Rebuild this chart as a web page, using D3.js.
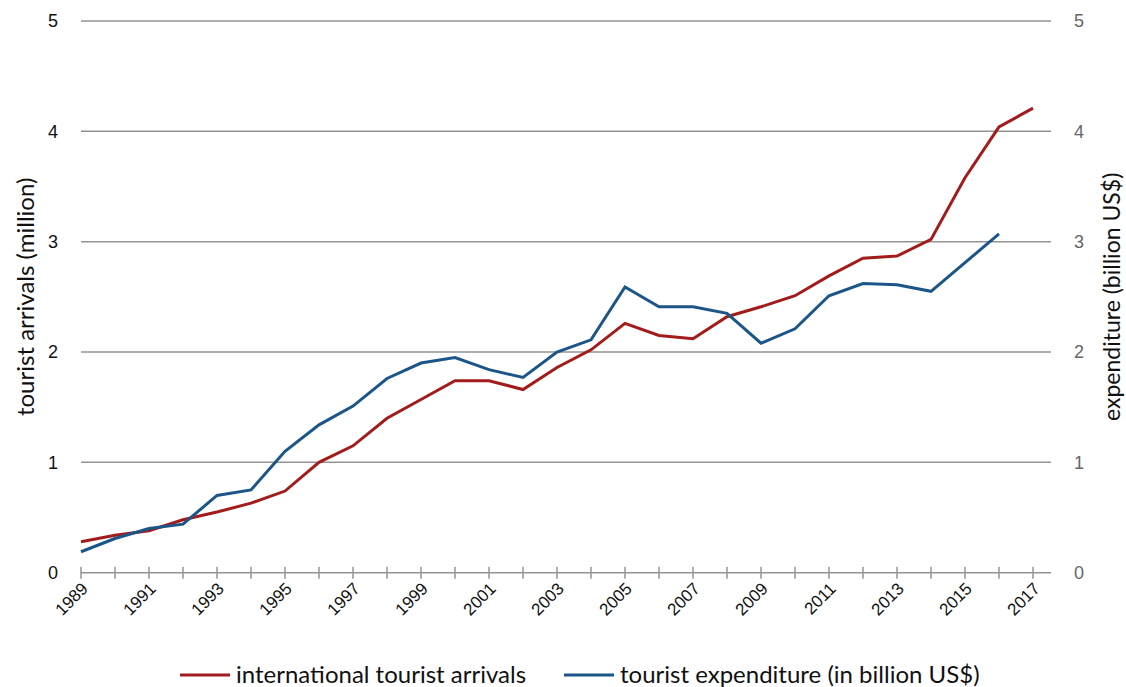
<!DOCTYPE html>
<html lang="en">
<head>
  <meta charset="UTF-8">
  <title>Tourist arrivals and expenditure</title>
  <script src="https://d3js.org/d3.v7.min.js"></script>
  <style>
    body {
      margin: 0;
      padding: 0;
      background-color: #fff;
    }
    svg text {
      font-family: "Liberation Sans", Arial, sans-serif;
    }
    .title, .legend text {
      font-family: Lato, "Open Sans", sans-serif !important;
    }
  </style>
</head>
<body>
  <svg id="chart"></svg>

  <script>
    // Data
    const years = d3.range(1989, 2018);
    const arrivals = [0.28, 0.34, 0.38, 0.48, 0.55, 0.63, 0.74, 1.00, 1.15, 1.40,
                      1.57, 1.74, 1.74, 1.66, 1.86, 2.02, 2.26, 2.15, 2.12, 2.32,
                      2.41, 2.51, 2.69, 2.85, 2.87, 3.02, 3.58, 4.04, 4.21];
    const expenditure = [0.19, 0.31, 0.40, 0.44, 0.70, 0.75, 1.10, 1.34, 1.51, 1.76,
                         1.90, 1.95, 1.84, 1.77, 2.00, 2.11, 2.59, 2.41, 2.41, 2.35,
                         2.08, 2.21, 2.51, 2.62, 2.61, 2.55, 2.81, 3.07, null];
    const yTicks = [0, 1, 2, 3, 4, 5];
    const xLabelYears = years.filter(y => y % 2 === 1);

    const seriesNames = ["international tourist arrivals", "tourist expenditure (in billion US$)"];
    const seriesColors = ["#a21c1c", "#1c5688"];

    const width = 1126, height = 687;
    const svg = d3.select("#chart").attr("width", width).attr("height", height);

    const x = d3.scaleLinear().domain([1989, 2017]).range([81, 1033]);
    const yLeft = d3.scaleLinear().domain([0, 5]).range([572.7, 21]);
    const yRight = d3.scaleLinear().domain([0, 5]).range([572.7, 21]);
    const gridLeft = 81, gridRight = 1051;

    // gridlines
    svg.append("g")
      .selectAll("line")
      .data(yTicks.filter(d => d > 0))
      .join("line")
      .attr("x1", gridLeft).attr("x2", gridRight)
      .attr("y1", d => yLeft(d)).attr("y2", d => yLeft(d))
      .attr("stroke", "#939393")
      .attr("stroke-width", 1.5);

    // x axis line and ticks
    const xAxis = svg.append("g");
    xAxis.append("line")
      .attr("x1", gridLeft).attr("x2", gridRight)
      .attr("y1", yLeft(0)).attr("y2", yLeft(0))
      .attr("stroke", "#939393").attr("stroke-width", 1.5);
    xAxis.selectAll("line.tick")
      .data(years)
      .join("line")
      .attr("class", "tick")
      .attr("x1", d => x(d)).attr("x2", d => x(d))
      .attr("y1", yLeft(0) - 6).attr("y2", yLeft(0) + 6)
      .attr("stroke", "#939393").attr("stroke-width", 1.5);
    xAxis.selectAll("text")
      .data(xLabelYears)
      .join("text")
      .attr("transform", d => `translate(${x(d) + 8},${yLeft(0) + 17}) rotate(-45)`)
      .attr("text-anchor", "end")
      .attr("font-size", 17)
      .attr("fill", "#111")
      .text(d => d);

    // left y labels
    svg.append("g")
      .selectAll("text")
      .data(yTicks)
      .join("text")
      .attr("x", 53).attr("y", d => yLeft(d))
      .attr("dy", "0.35em")
      .attr("text-anchor", "middle")
      .attr("font-size", 18)
      .attr("fill", "#111")
      .text(d => d);

    // right y labels
    svg.append("g")
      .selectAll("text")
      .data(yTicks)
      .join("text")
      .attr("x", 1079).attr("y", d => yRight(d))
      .attr("dy", "0.35em")
      .attr("text-anchor", "middle")
      .attr("font-size", 18)
      .attr("fill", "#666")
      .text(d => d);

    // axis titles
    svg.append("text")
      .attr("class", "title")
      .attr("transform", `translate(26,${(yLeft(0) + yLeft(5)) / 2}) rotate(-90)`)
      .attr("text-anchor", "middle")
      .attr("dy", "0.35em")
      .attr("font-size", 24)
      .attr("fill", "#111")
      .text("tourist arrivals (million)");
    svg.append("text")
      .attr("class", "title")
      .attr("transform", `translate(1112,${(yLeft(0) + yLeft(5)) / 2}) rotate(-90)`)
      .attr("text-anchor", "middle")
      .attr("dy", "0.35em")
      .attr("font-size", 23)
      .attr("fill", "#111")
      .text("expenditure (billion US$)");

    // lines
    const lineLeft = d3.line()
      .defined(d => d[1] != null)
      .x(d => x(d[0])).y(d => yLeft(d[1]));
    const lineRight = d3.line()
      .defined(d => d[1] != null)
      .x(d => x(d[0])).y(d => yRight(d[1]));

    svg.append("path")
      .datum(years.map((yr, i) => [yr, arrivals[i]]))
      .attr("d", lineLeft)
      .attr("fill", "none")
      .attr("stroke", seriesColors[0])
      .attr("stroke-width", 3);
    svg.append("path")
      .datum(years.map((yr, i) => [yr, expenditure[i]]))
      .attr("d", lineRight)
      .attr("fill", "none")
      .attr("stroke", seriesColors[1])
      .attr("stroke-width", 3);

    // legend
    const legend = svg.append("g").attr("class", "legend");
    const legendItems = [
      { x: 180, name: seriesNames[0], color: seriesColors[0] },
      { x: 564, name: seriesNames[1], color: seriesColors[1] }
    ];
    const li = legend.selectAll("g")
      .data(legendItems)
      .join("g")
      .attr("transform", d => `translate(${d.x},675)`);
    li.append("line")
      .attr("x1", 0).attr("x2", 50)
      .attr("stroke", d => d.color)
      .attr("stroke-width", 3);
    li.append("text")
      .attr("x", 56)
      .attr("dy", "0.35em")
      .attr("font-size", 24)
      .attr("fill", "#111")
      .text(d => d.name);
  </script>
</body>
</html>
